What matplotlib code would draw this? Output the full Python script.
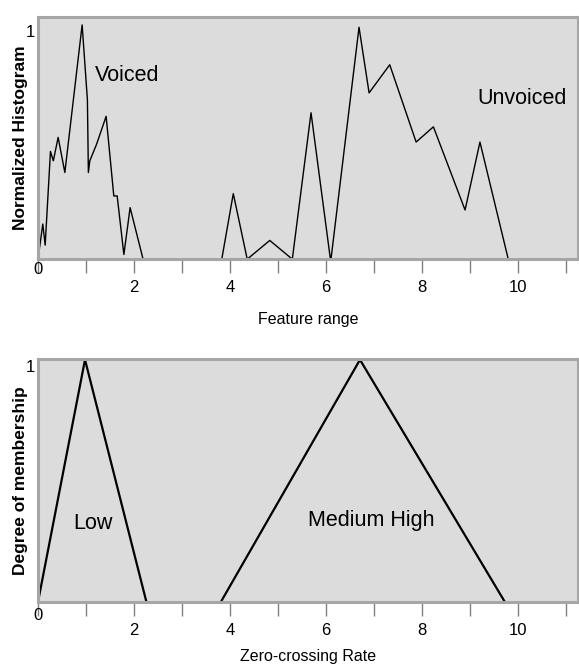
import matplotlib
matplotlib.use("Agg")
import matplotlib.pyplot as plt

# Histogram of the feature
voiced_x = [0.0, 0.10, 0.15, 0.26, 0.32, 0.42, 0.56, 0.92, 1.03, 1.05, 1.08, 1.22, 1.42, 1.58, 1.65, 1.79, 1.92, 2.19]
voiced_y = [0.0, 0.15, 0.06, 0.46, 0.42, 0.52, 0.37, 1.00, 0.68, 0.37, 0.42, 0.49, 0.61, 0.27, 0.27, 0.02, 0.22, 0.0]
unvoiced_x = [3.83, 4.07, 4.36, 4.83, 5.30, 5.69, 6.10, 6.69, 6.90, 7.33, 7.88, 8.24, 8.90, 9.21, 9.80]
unvoiced_y = [0.0, 0.28, 0.0, 0.08, 0.0, 0.625, -0.01, 0.99, 0.71, 0.83, 0.50, 0.565, 0.21, 0.50, 0.0]

# Membership functions
low_x = [0.0, 0.98, 2.26]
low_y = [0.0, 1.0, 0.0]
medhigh_x = [3.81, 6.71, 9.73]
medhigh_y = [0.0, 1.0, 0.0]

tick_pos = list(range(0, 12))
tick_labels = ["" if (t % 2 or t == 0) else str(t) for t in tick_pos]

plt.rcParams["font.family"] = ["Liberation Sans Narrow", "Liberation Sans", "DejaVu Sans"]

fig = plt.figure(figsize=(5.79, 6.68), dpi=100)
ax1 = fig.add_axes([0.0656, 0.612, 0.9324, 0.3626])
ax2 = fig.add_axes([0.0656, 0.0988, 0.9324, 0.3638])

bold = {"family": ["Liberation Sans", "DejaVu Sans"], "weight": "bold", "size": 12.5}


def style(ax, ymax, zero_drop):
    ax.set_facecolor("#dcdcdc")
    ax.set_xlim(0, 11.25)
    ax.set_ylim(0, ymax)
    for s in ax.spines.values():
        s.set_color("#a6a6a6")
        s.set_linewidth(2.2)
    ax.set_xticks(tick_pos)
    ax.set_xticklabels(tick_labels, fontsize=12)
    ax.tick_params(axis="x", direction="out", length=10, width=1, color="#808080", pad=5)
    ax.set_yticks([1])
    ax.set_yticklabels(["1"], fontsize=12, va="top")
    ax.tick_params(axis="y", length=0, pad=2)
    for lab in ax.get_yticklabels():
        lab.set_y(1.0)
    ax.annotate("0", (0, 0), xytext=(0, -zero_drop), textcoords="offset points",
                fontsize=12, ha="center", va="top", annotation_clip=False)
    ax.yaxis.set_label_coords(-0.018, 0.5)


style(ax1, 1.034, 2)
ax1.plot(voiced_x, voiced_y, color="black", lw=1.0)
ax1.plot(unvoiced_x, unvoiced_y, color="black", lw=1.0)
ax1.set_ylabel("Normalized Histogram", fontdict=bold)
ax1.set_xlabel("Feature range", fontsize=11.5, labelpad=12)
ax1.text(1.19, 0.786, "Voiced", fontsize=15.5, va="center")
ax1.text(9.15, 0.688, "Unvoiced", fontsize=15.5, va="center")

style(ax2, 1.003, 4)
ax2.plot(low_x, low_y, color="black", lw=1.6)
ax2.plot(medhigh_x, medhigh_y, color="black", lw=1.6)
ax2.set_ylabel("Degree of membership", fontdict=bold)
ax2.set_xlabel("Zero-crossing Rate", fontsize=11.5, labelpad=8)
ax2.text(0.73, 0.325, "Low", fontsize=15.5, va="center")
ax2.text(5.63, 0.337, "Medium High", fontsize=15.5, va="center")

fig.savefig("out.png", dpi=100)
